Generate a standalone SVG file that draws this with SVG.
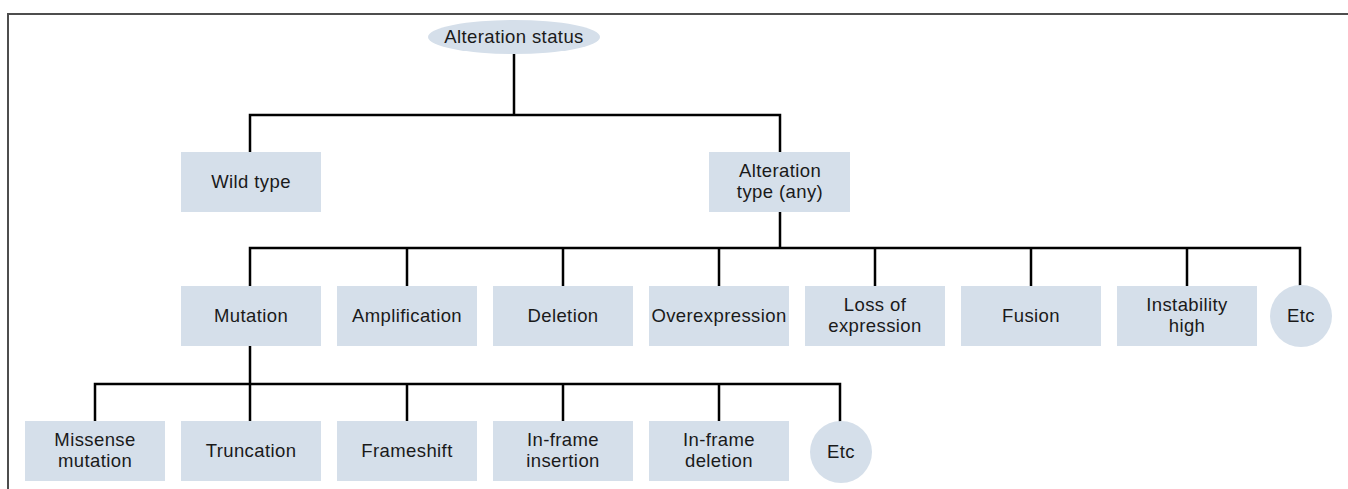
<svg xmlns="http://www.w3.org/2000/svg" width="1348" height="489" viewBox="0 0 1348 489">
<style>
.box{fill:#d5dfea;}
.lbl{font-family:"Liberation Sans",Arial,sans-serif;font-size:18.5px;letter-spacing:0.4px;fill:#1a1a1a;text-anchor:middle;}
.conn{fill:none;stroke:#000;stroke-width:2.5;}
.frame{fill:none;stroke:#4d4d4d;stroke-width:2;}
</style>
<rect width="1348" height="489" fill="#fff"/>
<path class="frame" d="M8,489 V14 H1348"/>
<g id="connectors">
<path class="conn" d="M514,53 V115 M250,152 V115 H780 V152"/>
<path class="conn" d="M780,212 V248 M250,286 V248 H1300 V286 M407,248 V286 M563,248 V286 M719,248 V286 M875,248 V286 M1031,248 V286 M1187,248 V286"/>
<path class="conn" d="M250,346 V384 M95,421 V384 H840 V423 M250,384 V421 M407,384 V421 M563,384 V421 M719,384 V421"/>
</g>
<g id="n-alteration-status"><ellipse class="box" cx="514" cy="37" rx="86" ry="17"/><text class="lbl" x="514" y="43">Alteration status</text></g>
<g id="n-wild-type"><rect class="box" x="181" y="152" width="140" height="60"/><text class="lbl" x="251" y="188">Wild type</text></g>
<g id="n-alteration-type"><rect class="box" x="709" y="152" width="141" height="60"/><text class="lbl" x="780" y="177">Alteration</text><text class="lbl" x="780" y="198">type (any)</text></g>
<g id="n-mutation"><rect class="box" x="181" y="286" width="140" height="60"/><text class="lbl" x="251" y="322">Mutation</text></g>
<g id="n-amplification"><rect class="box" x="337" y="286" width="140" height="60"/><text class="lbl" x="407" y="322">Amplification</text></g>
<g id="n-deletion"><rect class="box" x="493" y="286" width="140" height="60"/><text class="lbl" x="563" y="322">Deletion</text></g>
<g id="n-overexpression"><rect class="box" x="649" y="286" width="140" height="60"/><text class="lbl" x="719" y="322">Overexpression</text></g>
<g id="n-loss-of-expression"><rect class="box" x="805" y="286" width="140" height="60"/><text class="lbl" x="875" y="311">Loss of</text><text class="lbl" x="875" y="332">expression</text></g>
<g id="n-fusion"><rect class="box" x="961" y="286" width="140" height="60"/><text class="lbl" x="1031" y="322">Fusion</text></g>
<g id="n-instability-high"><rect class="box" x="1117" y="286" width="140" height="60"/><text class="lbl" x="1187" y="311">Instability</text><text class="lbl" x="1187" y="332">high</text></g>
<g id="n-etc-1"><ellipse class="box" cx="1301" cy="316" rx="31" ry="31"/><text class="lbl" x="1301" y="322">Etc</text></g>
<g id="n-missense"><rect class="box" x="25" y="421" width="140" height="60"/><text class="lbl" x="95" y="446">Missense</text><text class="lbl" x="95" y="467">mutation</text></g>
<g id="n-truncation"><rect class="box" x="181" y="421" width="140" height="60"/><text class="lbl" x="251" y="457">Truncation</text></g>
<g id="n-frameshift"><rect class="box" x="337" y="421" width="140" height="60"/><text class="lbl" x="407" y="457">Frameshift</text></g>
<g id="n-inframe-insertion"><rect class="box" x="493" y="421" width="140" height="60"/><text class="lbl" x="563" y="446">In-frame</text><text class="lbl" x="563" y="467">insertion</text></g>
<g id="n-inframe-deletion"><rect class="box" x="649" y="421" width="140" height="60"/><text class="lbl" x="719" y="446">In-frame</text><text class="lbl" x="719" y="467">deletion</text></g>
<g id="n-etc-2"><ellipse class="box" cx="841" cy="452" rx="31" ry="31"/><text class="lbl" x="841" y="458">Etc</text></g>
</svg>
